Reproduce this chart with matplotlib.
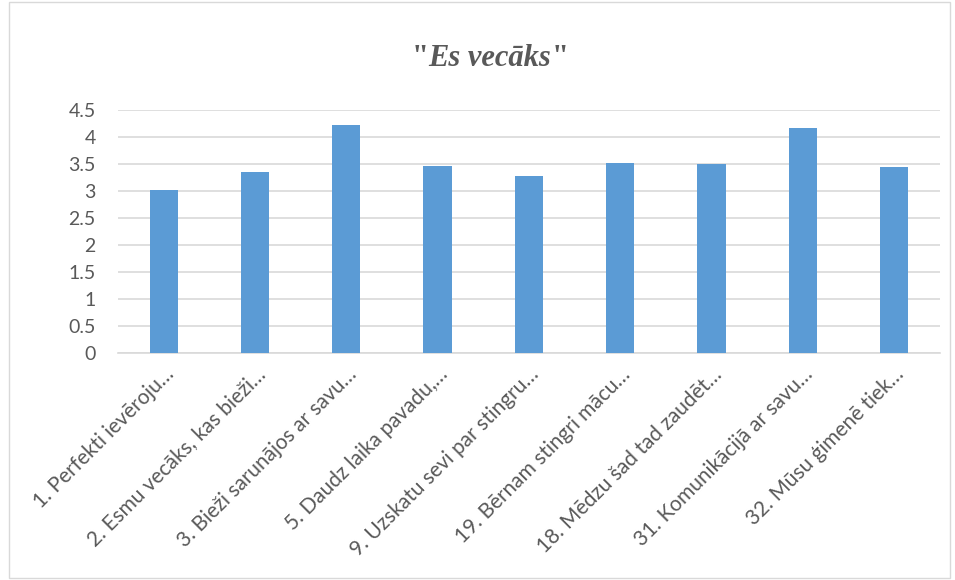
import matplotlib.pyplot as plt
from matplotlib.patches import Rectangle

labels = ['1. Perfekti ievēroju…', '2. Esmu vecāks, kas bieži…', '3. Bieži sarunājos ar savu…',
          '5. Daudz laika pavadu,…', '9. Uzskatu sevi par stingru…', '19. Bērnam stingri mācu…',
          '18. Mēdzu šad tad zaudēt…', '31. Komunikācijā ar savu…', '32. Mūsu ģimenē tiek…']
values = [3.03, 3.35, 4.22, 3.47, 3.28, 3.53, 3.51, 4.17, 3.44]
yticks = [0, 0.5, 1, 1.5, 2, 2.5, 3, 3.5, 4, 4.5]
ytick_labels = ['0', '0.5', '1', '1.5', '2', '2.5', '3', '3.5', '4', '4.5']

grey = '#595959'
plt.rcParams['font.family'] = ['Lato', 'DejaVu Sans']

fig = plt.figure(figsize=(9.55, 5.8), dpi=100)
fig.patches.append(Rectangle((9 / 955, 2 / 580), 941 / 955, 576 / 580, transform=fig.transFigure,
                             fill=False, edgecolor='#d9d9d9', linewidth=1))

ax = fig.add_axes([0.1236, 0.391, 0.8604, 0.419])
x = list(range(len(values)))
ax.bar(x, values, width=0.31, color='#5b9bd5', zorder=3)
ax.set_xlim(-0.5, len(values) - 0.5)
ax.set_ylim(0, 4.5)
ax.set_yticks(yticks)
ax.set_yticklabels(ytick_labels)
ax.set_xticks(x)
ax.set_xticklabels(labels, rotation=45, ha='right', va='top', rotation_mode='anchor')
ax.tick_params(axis='y', length=0, labelsize=14, labelcolor=grey, pad=16)
ax.tick_params(axis='x', length=0, labelsize=15, labelcolor=grey, pad=8)
ax.grid(axis='y', color='#d9d9d9', linewidth=1.2, zorder=0)
for s in ['top', 'right', 'left']:
    ax.spines[s].set_visible(False)
ax.spines['bottom'].set_color('#d9d9d9')
ax.spines['bottom'].set_linewidth(1.2)

# title: upright quotes, bold italic words
tfont = ['Liberation Serif', 'DejaVu Serif']
t1 = fig.text(0.431, 0.9, '"', family=tfont, fontsize=22, fontweight='bold', color=grey,
              ha='left', va='center')
t2 = ax.annotate('Es vecāks', xy=(1, 0), xycoords=t1, va='bottom', ha='left',
                 family=tfont, fontsize=22, fontweight='bold', fontstyle='italic', color=grey)
ax.annotate('"', xy=(1, 0), xycoords=t2, va='bottom', ha='left',
            family=tfont, fontsize=22, fontweight='bold', color=grey)

fig.savefig('out.png', dpi=100)
